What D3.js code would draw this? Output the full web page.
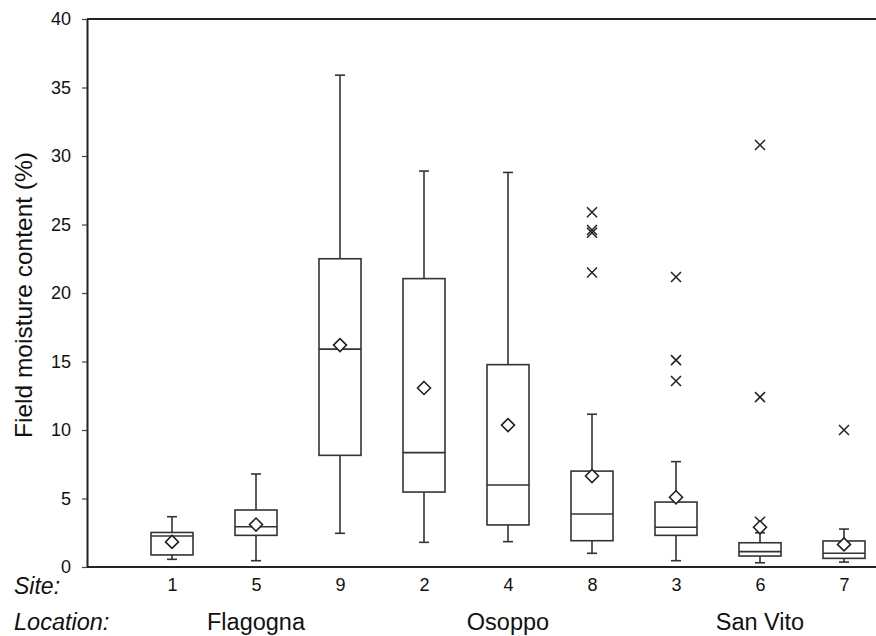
<!DOCTYPE html>
<html>
<head>
<meta charset="utf-8">
<script src="https://cdn.jsdelivr.net/npm/d3@7"></script>
<style>
  html, body { margin: 0; padding: 0; background: #fff; }
  svg { display: block; }
  text { font-family: Arial, "Liberation Sans", sans-serif; fill: #111; }
</style>
</head>
<body>
<svg id="chart" width="876" height="636"></svg>
<script>
// ---- data ----
const sites = ["1", "5", "9", "2", "4", "8", "3", "6", "7"];
const whiskerLow  = [0.56, 0.46, 2.46, 1.80, 1.85, 1.00, 0.46, 0.31, 0.36];
const q1          = [0.88, 2.31, 8.15, 5.47, 3.07, 1.92, 2.31, 0.80, 0.63];
const median      = [2.26, 2.94, 15.9, 8.35, 5.99, 3.87, 2.90, 1.12, 1.00];
const q3          = [2.52, 4.16, 22.5, 21.05, 14.77, 7.00, 4.74, 1.77, 1.90];
const whiskerHigh = [3.67, 6.79, 35.9, 28.9, 28.8, 11.15, 7.69, 2.50, 2.77];
const means       = [1.83, 3.10, 16.2, 13.07, 10.36, 6.64, 5.09, 2.90, 1.65];
const outliers    = [[], [], [], [], [], [25.9, 24.6, 24.4, 21.5], [21.17, 15.1, 13.58], [30.8, 12.4, 3.3], [10.0]];
const locationNames = ["Flagogna", "Osoppo", "San Vito"];
const locationSites = ["5", "4", "6"];
const yTicks = [0, 5, 10, 15, 20, 25, 30, 35, 40];
const yTitle = "Field moisture content (%)";

// ---- layout ----
const svg = d3.select("#chart");
const mLeft = 87, mRight = 876, mTop = 19, mBottom = 567;
const x = d3.scalePoint().domain(sites).range([172, 844]);
const y = d3.scaleLinear().domain([0, 40]).range([mBottom, mTop]);
const boxW = x.step() * 0.5;
const capW = 10;
const lineColor = "#333";

const boxes = sites.map((s, i) => ({
  site: s, lo: whiskerLow[i], q1: q1[i], med: median[i], q3: q3[i], hi: whiskerHigh[i], mean: means[i], out: outliers[i]
}));

// axes frame
svg.append("line").attr("x1", mLeft).attr("x2", mRight).attr("y1", mTop).attr("y2", mTop)
  .attr("stroke", "#222").attr("stroke-width", 2);
svg.append("line").attr("x1", mLeft).attr("x2", mRight).attr("y1", mBottom).attr("y2", mBottom)
  .attr("stroke", "#222").attr("stroke-width", 2);

const yAxis = svg.append("g").attr("transform", `translate(${mLeft},0)`)
  .call(d3.axisLeft(y).tickValues(yTicks).tickSize(5).tickPadding(11).tickSizeOuter(0));
yAxis.select(".domain").attr("stroke", "#222").attr("stroke-width", 2);
yAxis.selectAll(".tick line").attr("stroke", "#444").attr("stroke-width", 1.2);
yAxis.selectAll(".tick text").style("font-size", "18px").attr("fill", "#111");

// x tick labels (no tick marks)
const xAxis = svg.append("g").attr("transform", `translate(0,${mBottom})`)
  .call(d3.axisBottom(x).tickSize(0).tickPadding(11));
xAxis.select(".domain").remove();
xAxis.selectAll(".tick text").style("font-size", "18px").attr("fill", "#111");

// y title
svg.append("text")
  .attr("transform", `translate(32,295) rotate(-90)`)
  .attr("text-anchor", "middle")
  .style("font-size", "24.5px")
  .text(yTitle);

// Site / Location labels
svg.append("text").attr("x", 14).attr("y", 594).style("font-size", "23px").style("font-style", "italic").text("Site:");
svg.append("text").attr("x", 14).attr("y", 630).style("font-size", "23.5px").style("font-style", "italic").text("Location:");
svg.selectAll(".loc").data(locationNames).enter().append("text")
  .attr("class", "loc")
  .attr("x", (d, i) => x(locationSites[i]))
  .attr("y", 630)
  .attr("text-anchor", "middle")
  .style("font-size", "23.5px")
  .text(d => d);

// boxes
const g = svg.selectAll(".box").data(boxes).enter().append("g").attr("class", "box")
  .attr("transform", d => `translate(${x(d.site)},0)`);

const sw = 1.6;
// whiskers
g.append("line").attr("x1", 0).attr("x2", 0).attr("y1", d => y(d.hi)).attr("y2", d => y(d.q3))
  .attr("stroke", lineColor).attr("stroke-width", sw);
g.append("line").attr("x1", 0).attr("x2", 0).attr("y1", d => y(d.q1)).attr("y2", d => y(d.lo))
  .attr("stroke", lineColor).attr("stroke-width", sw);
g.append("line").attr("x1", -capW / 2).attr("x2", capW / 2).attr("y1", d => y(d.hi)).attr("y2", d => y(d.hi))
  .attr("stroke", lineColor).attr("stroke-width", sw);
g.append("line").attr("x1", -capW / 2).attr("x2", capW / 2).attr("y1", d => y(d.lo)).attr("y2", d => y(d.lo))
  .attr("stroke", lineColor).attr("stroke-width", sw);
// box
g.append("rect").attr("x", -boxW / 2).attr("width", boxW)
  .attr("y", d => y(d.q3)).attr("height", d => y(d.q1) - y(d.q3))
  .attr("fill", "#fff").attr("stroke", lineColor).attr("stroke-width", sw);
// median
g.append("line").attr("x1", -boxW / 2).attr("x2", boxW / 2).attr("y1", d => y(d.med)).attr("y2", d => y(d.med))
  .attr("stroke", lineColor).attr("stroke-width", sw);
// outliers (x marks)
g.each(function (d) {
  d3.select(this).selectAll(".out").data(d.out).enter().append("path")
    .attr("class", "out")
    .attr("d", v => { const yy = y(v), r = 5; return `M${-r},${yy - r}L${r},${yy + r}M${r},${yy - r}L${-r},${yy + r}`; })
    .attr("stroke", "#222").attr("stroke-width", 1.5).attr("fill", "none");
});
// mean diamond
g.append("path")
  .attr("d", d => { const yy = y(d.mean), r = 6.5; return `M0,${yy - r}L${r},${yy}L0,${yy + r}L${-r},${yy}Z`; })
  .attr("fill", "#fff").attr("stroke", "#222").attr("stroke-width", 1.6);
</script>
</body>
</html>
